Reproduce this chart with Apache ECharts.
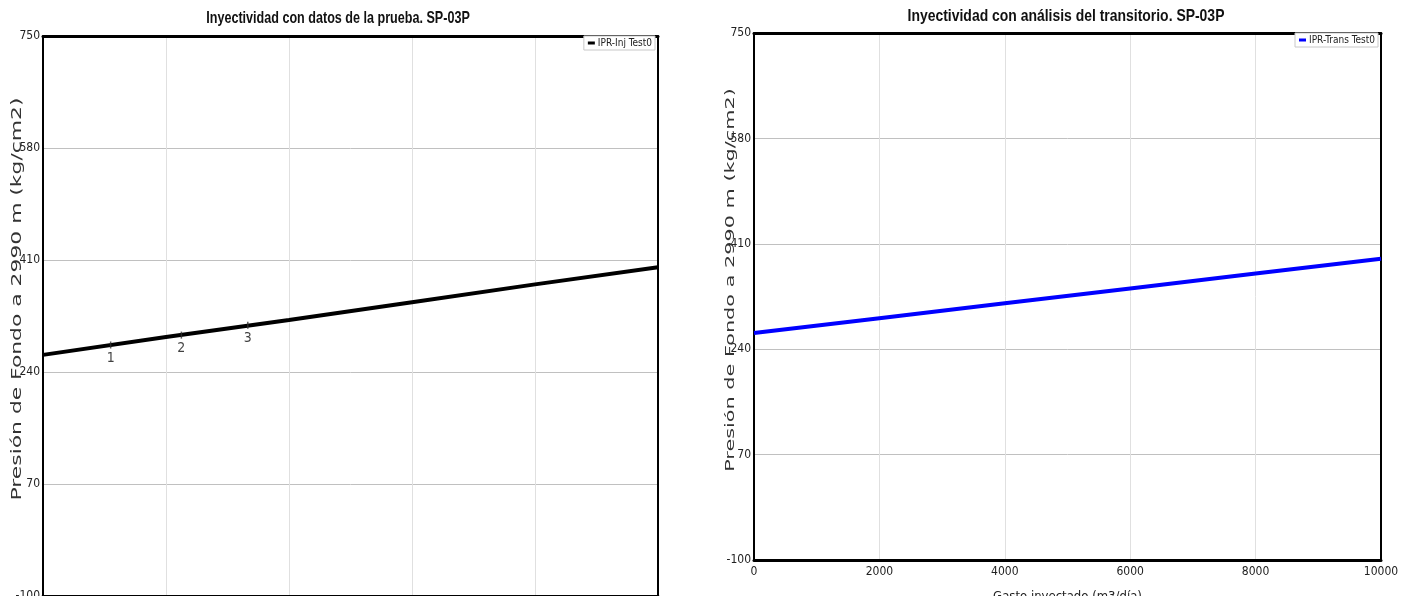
<!DOCTYPE html>
<html>
<head>
<meta charset="utf-8">
<script src="https://cdn.jsdelivr.net/npm/echarts@6/dist/echarts.min.js"></script>
<style>html,body{margin:0;padding:0;background:#fff;overflow:hidden;}#c{width:1408px;height:596px;}</style>
</head>
<body>
<div id="c"></div>
<script>
// ---- data ----
const leftTitle = 'Inyectividad con datos de la prueba. SP-03P';
const rightTitle = 'Inyectividad con análisis del transitorio. SP-03P';
const yAxisTitle = 'Presión de Fondo a 2990 m (kg/cm2)';
const xAxisTitle = 'Gasto inyectado (m3/día)';
const injName = 'IPR-Inj Test0';
const transName = 'IPR-Trans Test0';

const qValues = [0, 2000, 4000, 6000, 8000, 10000];
const injPressure = [266, 293, 319, 346, 373, 399];
const transPressure = [266, 290, 314, 338, 362, 386];

const testQ = [1100, 2250, 3330];
const testP = [281, 296, 311];
const testLabels = ['1', '2', '3'];

const yMin = -100, yMax = 750, yStep = 170;
const xMin = 0, xMax = 10000, xStep = 2000;

// ---- chart ----
const narrow = '"Liberation Sans Narrow", "DejaVu Sans Condensed", "Liberation Sans", Arial, sans-serif';
const chart = echarts.init(document.getElementById('c'), null, {renderer: 'canvas'});

function pairs(xs, ys) { return xs.map((x, i) => [x, ys[i]]); }

function mainX(gi, showLabels) {
  return {
    type: 'value', gridIndex: gi, min: xMin, max: xMax, interval: xStep, position: 'bottom',
    axisLine: {show: true, onZero: false, lineStyle: {color: '#000', width: 3}},
    axisTick: {show: false},
    axisLabel: {show: showLabels, color: '#222', fontFamily: narrow, fontSize: 12, margin: 6,
                formatter: v => String(v)},
    splitLine: {show: true, lineStyle: {color: '#e0e0e0', width: 1}},
    name: showLabels ? xAxisTitle : '', nameLocation: 'middle', nameGap: 30,
    nameTextStyle: {color: '#222', fontFamily: narrow, fontSize: 13}
  };
}
function topX(gi) {
  return {
    type: 'value', gridIndex: gi, min: xMin, max: xMax, position: 'top',
    axisLine: {show: true, onZero: false, lineStyle: {color: '#000', width: 3}},
    axisTick: {show: false}, axisLabel: {show: false}, splitLine: {show: false}
  };
}
function mainY(gi) {
  return {
    type: 'value', gridIndex: gi, min: yMin, max: yMax, interval: yStep, position: 'left',
    axisLine: {show: true, onZero: false, lineStyle: {color: '#000', width: 2}},
    axisTick: {show: false},
    axisLabel: {color: '#222', fontFamily: narrow, fontSize: 12, margin: 3, showMinLabel: true, showMaxLabel: true},
    splitLine: {show: true, lineStyle: {color: '#c0c0c0', width: 1}}
  };
}
function rightY(gi) {
  return {
    type: 'value', gridIndex: gi, min: yMin, max: yMax, position: 'right',
    axisLine: {show: true, onZero: false, lineStyle: {color: '#000', width: 2}},
    axisTick: {show: false}, axisLabel: {show: false}, splitLine: {show: false}
  };
}
function legendFor(name, right, top) {
  return {
    data: [name], right: right, top: top, orient: 'vertical',
    icon: 'rect', itemWidth: 7, itemHeight: 3, itemGap: 0,
    padding: [2, 3, 2, 4],
    backgroundColor: '#fff', borderColor: '#c8c8c8', borderWidth: 1,
    textStyle: {color: '#222', fontFamily: narrow, fontSize: 10, padding: [0, 0, 0, -2]}
  };
}
function titleText(text, x, y, sx) {
  return {type: 'text', x: x, y: y, scaleX: sx, z: 10,
          style: {text: text, align: 'center', verticalAlign: 'middle', fill: '#111',
                  font: 'bold 17px "Liberation Sans", Arial, sans-serif'}};
}
function yTitle(x, y, size, sx) {
  return {type: 'text', x: x, y: y, rotation: Math.PI / 2, scaleX: sx, z: 10,
          style: {text: yAxisTitle, align: 'center', verticalAlign: 'middle',
                  fill: '#333', font: size + 'px "DejaVu Sans", sans-serif'}};
}

const option = {
  animation: false,
  backgroundColor: '#fff',
  legend: [legendFor(injName, 753, 36), legendFor(transName, 30, 33)],
  grid: [
    {left: 43, top: 36, width: 615, height: 560, outerBoundsMode: 'none', containLabel: false},
    {left: 754, top: 33, width: 627, height: 527, outerBoundsMode: 'none', containLabel: false}
  ],
  xAxis: [mainX(0, false), topX(0), mainX(1, true), topX(1)],
  yAxis: [mainY(0), rightY(0), mainY(1), rightY(1)],
  graphic: [
    titleText(leftTitle, 338, 18, 0.74),
    titleText(rightTitle, 1066, 16, 0.82),
    yTitle(17, 299, 14, 1.56),
    yTitle(731, 280, 13, 1.6)
  ],
  series: [
    {name: injName, type: 'line', xAxisIndex: 0, yAxisIndex: 0, data: pairs(qValues, injPressure),
     showSymbol: false, symbol: 'none', lineStyle: {color: '#000', width: 4}, itemStyle: {color: '#000'}, z: 3},
    {name: 'test', type: 'scatter', xAxisIndex: 0, yAxisIndex: 0,
     data: testQ.map((q, i) => ({value: [q, testP[i]], label: {formatter: testLabels[i]}})),
     symbol: 'rect', symbolSize: [1.5, 7], itemStyle: {color: '#333'},
     label: {show: true, position: 'bottom', distance: 3, color: '#111', fontFamily: narrow, fontSize: 14}, z: 4},
    {name: transName, type: 'line', xAxisIndex: 2, yAxisIndex: 2, data: pairs(qValues, transPressure),
     showSymbol: false, symbol: 'none', lineStyle: {color: '#0000ff', width: 4}, itemStyle: {color: '#0000ff'}, z: 3}
  ]
};
chart.setOption(option);
</script>
</body>
</html>
